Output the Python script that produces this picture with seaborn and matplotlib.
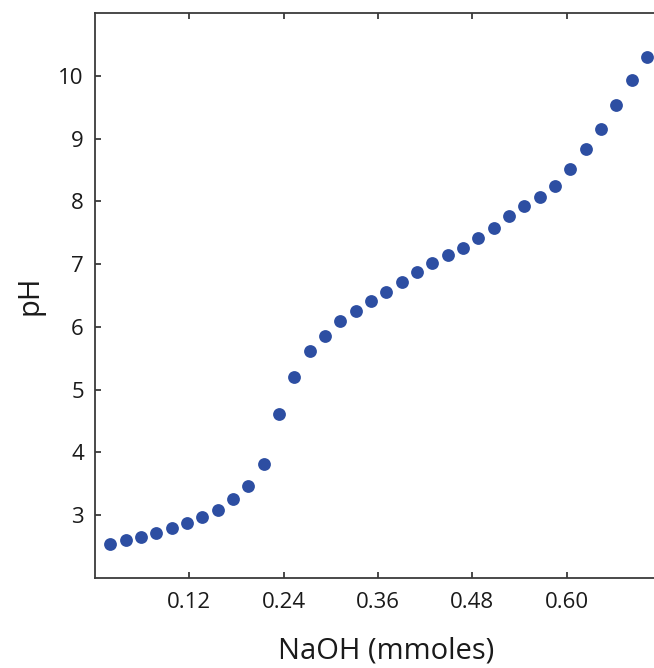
import matplotlib
matplotlib.use("Agg")
import matplotlib.pyplot as plt
import seaborn as sns
import pandas as pd
from matplotlib.ticker import FixedLocator, FormatStrFormatter

# Data
naoh_mmol = [0.0195, 0.039, 0.0585, 0.078, 0.0975, 0.117, 0.1365, 0.156, 0.1755,
             0.195, 0.2145, 0.234, 0.2535, 0.273, 0.2925, 0.312, 0.3315, 0.351,
             0.3705, 0.39, 0.4095, 0.429, 0.4485, 0.468, 0.4875, 0.507, 0.5265,
             0.546, 0.5655, 0.585, 0.6045, 0.624, 0.6435, 0.663, 0.6825, 0.702]
ph_values = [2.54, 2.60, 2.66, 2.71, 2.79, 2.87, 2.97, 3.09, 3.26,
             3.46, 3.81, 4.61, 5.20, 5.62, 5.85, 6.09, 6.25, 6.41,
             6.56, 6.72, 6.87, 7.01, 7.14, 7.26, 7.42, 7.57, 7.77,
             7.92, 8.07, 8.24, 8.51, 8.84, 9.15, 9.54, 9.93, 10.30]
x_ticks = [0.12, 0.24, 0.36, 0.48, 0.60]
y_ticks = [3, 4, 5, 6, 7, 8, 9, 10]

df = pd.DataFrame({"NaOH (mmoles)": naoh_mmol, "pH": ph_values})

sns.set_theme(style="white")
plt.rcParams["font.family"] = ["Open Sans", "DejaVu Sans"]

fig = plt.figure(figsize=(6.54, 6.68), dpi=100)
ax = fig.add_axes([95 / 654, 90 / 668, (654 - 95) / 654, (578 - 13) / 668])

sns.scatterplot(data=df, x="NaOH (mmoles)", y="pH", ax=ax,
                color="#2D4EA2", s=85, linewidth=0, clip_on=False)

ax.set_xlim(0, 0.711)
ax.set_ylim(2, 11)
ax.xaxis.set_major_locator(FixedLocator(x_ticks))
ax.xaxis.set_major_formatter(FormatStrFormatter("%.2f"))
ax.yaxis.set_major_locator(FixedLocator(y_ticks))

spine_color = "#3a3a3a"
for side in ["left", "bottom", "top"]:
    ax.spines[side].set_visible(True)
    ax.spines[side].set_color(spine_color)
    ax.spines[side].set_linewidth(1.3)
ax.spines["right"].set_visible(False)

ax.tick_params(axis="x", which="major", direction="in", length=4, width=1.3,
               color=spine_color, top=True, bottom=True, labelsize=16,
               labelcolor="#1a1a1a", pad=10)
ax.tick_params(axis="y", which="major", direction="in", length=4, width=1.3,
               color=spine_color, left=True, right=False, labelsize=16,
               labelcolor="#1a1a1a", pad=8)

ax.set_xlabel("NaOH (mmoles)", fontsize=21, color="#1a1a1a", labelpad=17)
ax.xaxis.label.set_x(0.5215)
ax.set_ylabel("pH", fontsize=21, color="#1a1a1a", labelpad=10)

fig.savefig("out.png", dpi=100)
